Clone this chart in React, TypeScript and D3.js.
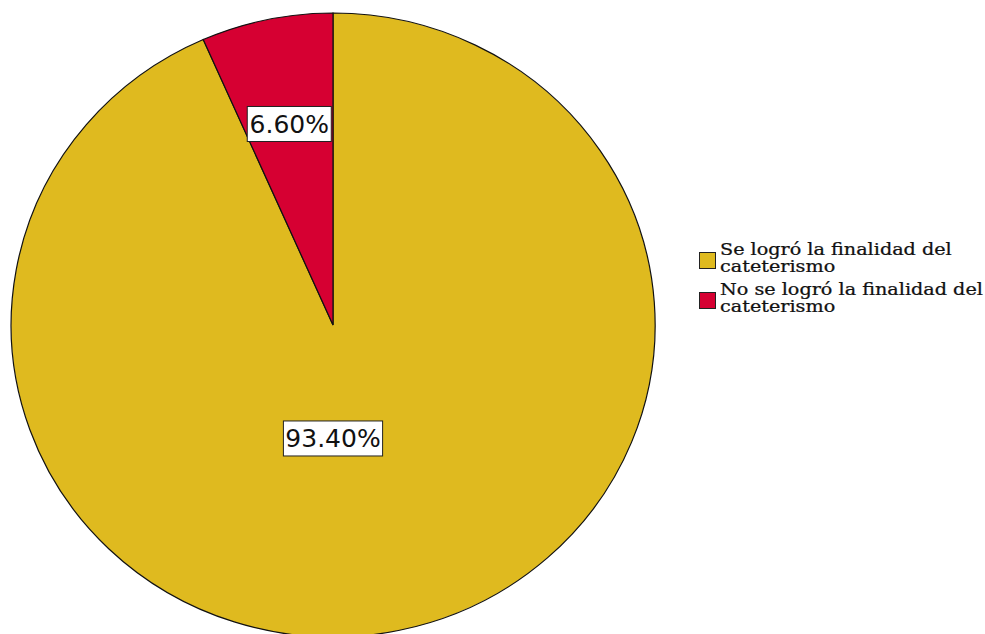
import React from "react";
import * as d3 from "d3";

const categories = ["Se logró la finalidad del cateterismo", "No se logró la finalidad del cateterismo"];
const legendLines = [["Se logró la finalidad del", "cateterismo"], ["No se logró la finalidad del", "cateterismo"]];
const values = [93.4, 6.6];
const labels = ["93.40%", "6.60%"];
const colors = ["#DFBA1F", "#D60032"];

const W = 985, H = 634;
const cx = 333, cy = 325, rx = 322, ry = 312;
const labelFx = [0.0, 0.66];
const labelFy = [0.37, 0.66];
const legendWidthScale = 1.2;

export default function App() {
  const pie = d3.pie<number>().sort(null).value(d => d);
  const arcs = pie(values);
  const arc = d3.arc<d3.PieArcDatum<number>>().innerRadius(0).outerRadius(1);
  return (
    <svg width={W} height={H} style={{ position: "absolute", left: 0, top: 0, background: "#fff" }}>
      <g transform={`translate(${cx},${cy}) scale(${rx},${ry})`}>
        {arcs.map((a, i) => (
          <path key={i} d={arc(a) || ""} fill={colors[i]} stroke="#111" strokeWidth={1.2} vectorEffect="non-scaling-stroke" />
        ))}
      </g>
      {arcs.map((a, i) => {
        const mid = (a.startAngle + a.endAngle) / 2;
        const x = cx + rx * labelFx[i] * Math.sin(mid);
        const y = cy - ry * labelFy[i] * Math.cos(mid);
        const tw = labels[i].length * 15.2 + 8;
        return (
          <g key={i} transform={`translate(${x},${y})`}>
            <rect x={-tw / 2} y={-17} width={tw} height={35} fill="#fff" stroke="#222" strokeWidth={1} />
            <text textAnchor="middle" dy="0.37em" fontFamily="DejaVu Sans" fontSize={25} fill="#111">{labels[i]}</text>
          </g>
        );
      })}
      <g>
        {categories.map((c, i) => {
          const y0 = 252 + i * 40;
          return (
            <g key={c}>
              <rect x={699.5} y={y0 + 0.5} width={16} height={16} fill={colors[i]} stroke="#222" strokeWidth={1} />
              {legendLines[i].map((t, j) => (
                <g key={j} transform={`translate(720,${y0 + 3 + j * 16.5}) scale(${legendWidthScale},1)`}>
                  <text x={0} y={0} fontFamily="DejaVu Serif" fontSize={16} fill="#111" stroke="#111" strokeWidth={0.25}>{t}</text>
                </g>
              ))}
            </g>
          );
        })}
      </g>
    </svg>
  );
}
